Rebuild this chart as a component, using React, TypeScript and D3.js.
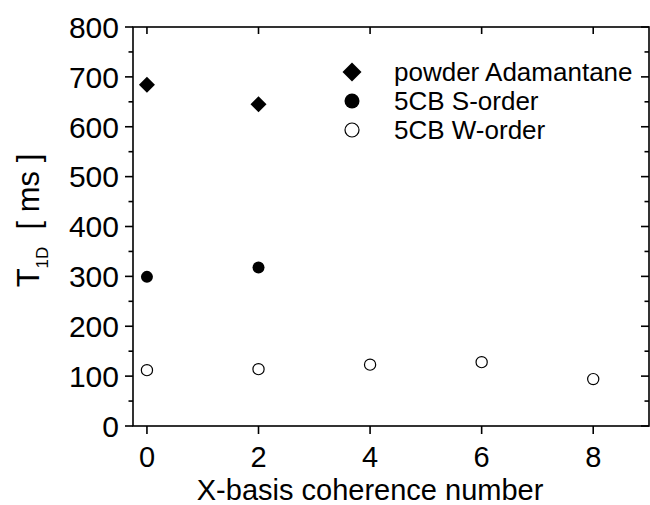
import React, { useEffect, useRef } from 'react';
import * as d3 from 'd3';

const adamX = [0, 2];
const adamY = [684, 645];
const sOrderX = [0, 2];
const sOrderY = [299, 318];
const wOrderX = [0, 2, 4, 6, 8];
const wOrderY = [112, 114, 123, 128, 94];
const xTicks = [0, 2, 4, 6, 8];
const yTicks = [0, 100, 200, 300, 400, 500, 600, 700, 800];
const yMinor = [50, 150, 250, 350, 450, 550, 650, 750];
const legendLabels = ['powder Adamantane', '5CB S-order', '5CB W-order'];

const FONT = '"Liberation Sans", Arial, sans-serif';

const Chart = () => {
    const ref = useRef(null);

    useEffect(() => {
        const svgWidth = 650, svgHeight = 505;
        const margin = { top: 27, right: 1, bottom: 79, left: 133 };
        const width = svgWidth - margin.left - margin.right;
        const height = svgHeight - margin.top - margin.bottom;

        const svg = d3.select(ref.current);
        svg.selectAll('*').remove();

        const x = d3.scaleLinear().domain([-0.25, 9]).range([0, width]);
        const y = d3.scaleLinear().domain([0, 800]).range([height, 0]);

        const g = svg.append('g').attr('transform', `translate(${margin.left},${margin.top})`);

        // frame
        g.append('rect')
            .attr('width', width).attr('height', height)
            .attr('fill', 'none').attr('stroke', '#000').attr('stroke-width', 1.6);

        const tickStyle = (sel) => sel.attr('stroke', '#000').attr('stroke-width', 1.6);

        // left / right y ticks
        yTicks.forEach(v => {
            g.append('line').attr('x1', -8).attr('x2', 0).attr('y1', y(v)).attr('y2', y(v)).call(tickStyle);
            g.append('line').attr('x1', width - 8).attr('x2', width).attr('y1', y(v)).attr('y2', y(v)).call(tickStyle);
        });
        yMinor.forEach(v => {
            g.append('line').attr('x1', -4.5).attr('x2', 0).attr('y1', y(v)).attr('y2', y(v)).call(tickStyle);
            g.append('line').attr('x1', width - 4.5).attr('x2', width).attr('y1', y(v)).attr('y2', y(v)).call(tickStyle);
        });
        // bottom / top x ticks
        xTicks.forEach(v => {
            g.append('line').attr('x1', x(v)).attr('x2', x(v)).attr('y1', height).attr('y2', height + 8).call(tickStyle);
            g.append('line').attr('x1', x(v)).attr('x2', x(v)).attr('y1', 0).attr('y2', 7).call(tickStyle);
        });

        // tick labels
        g.selectAll('.ylab').data(yTicks).enter().append('text')
            .attr('x', -14).attr('y', d => y(d)).attr('dy', '0.36em')
            .attr('text-anchor', 'end')
            .style('font-family', FONT).style('font-size', '30px')
            .text(d => d);

        g.selectAll('.xlab').data(xTicks).enter().append('text')
            .attr('x', d => x(d)).attr('y', height + 41)
            .attr('text-anchor', 'middle')
            .style('font-family', FONT).style('font-size', '29px')
            .text(d => d);

        // axis titles
        svg.append('text')
            .attr('x', margin.left + x(4)).attr('y', 499.5)
            .attr('text-anchor', 'middle')
            .style('font-family', FONT).style('font-size', '29px')
            .text('X-basis coherence number');

        const yt = svg.append('text')
            .attr('transform', `translate(39, ${margin.top + height / 2 - 6}) rotate(-90)`)
            .attr('text-anchor', 'middle')
            .style('font-family', FONT).style('font-size', '31px')
            .attr('xml:space', 'preserve');
        yt.append('tspan').text('T');
        yt.append('tspan').attr('dy', 9).style('font-size', '17px').text('1D');
        yt.append('tspan').attr('dy', -9).text('\u00a0\u00a0[\u00a0ms\u00a0]');

        // data
        const diamond = (cx, cy, r) => `M${cx},${cy - r}L${cx + r},${cy}L${cx},${cy + r}L${cx - r},${cy}Z`;

        g.selectAll('.adam').data(adamX).enter().append('path')
            .attr('d', (d, i) => diamond(x(d), y(adamY[i]), 8))
            .attr('fill', '#000');

        g.selectAll('.sord').data(sOrderX).enter().append('circle')
            .attr('cx', d => x(d)).attr('cy', (d, i) => y(sOrderY[i])).attr('r', 6)
            .attr('fill', '#000');

        g.selectAll('.word').data(wOrderX).enter().append('circle')
            .attr('cx', d => x(d)).attr('cy', (d, i) => y(wOrderY[i])).attr('r', 5.6)
            .attr('fill', '#fff').attr('stroke', '#000').attr('stroke-width', 1.2);

        // legend
        const lg = svg.append('g').attr('transform', 'translate(352, 72)');
        legendLabels.forEach((label, i) => {
            const cy = i * 29;
            if (i === 0) {
                lg.append('path').attr('d', diamond(0, cy, 9.5)).attr('fill', '#000');
            } else if (i === 1) {
                lg.append('circle').attr('cx', 0).attr('cy', cy).attr('r', 7.5).attr('fill', '#000');
            } else {
                lg.append('circle').attr('cx', 0).attr('cy', cy).attr('r', 7)
                    .attr('fill', '#fff').attr('stroke', '#000').attr('stroke-width', 1.2);
            }
            lg.append('text')
                .attr('x', 42).attr('y', cy).attr('dy', '0.36em')
                .style('font-family', FONT).style('font-size', '26px')
                .text(label);
        });
    }, []);

    return <svg ref={ref} width={650} height={505} style={{ display: 'block' }} />;
};

export default function App() {
    return (
        <div>
            <style>{'body{margin:0}'}</style>
            <Chart />
        </div>
    );
}
